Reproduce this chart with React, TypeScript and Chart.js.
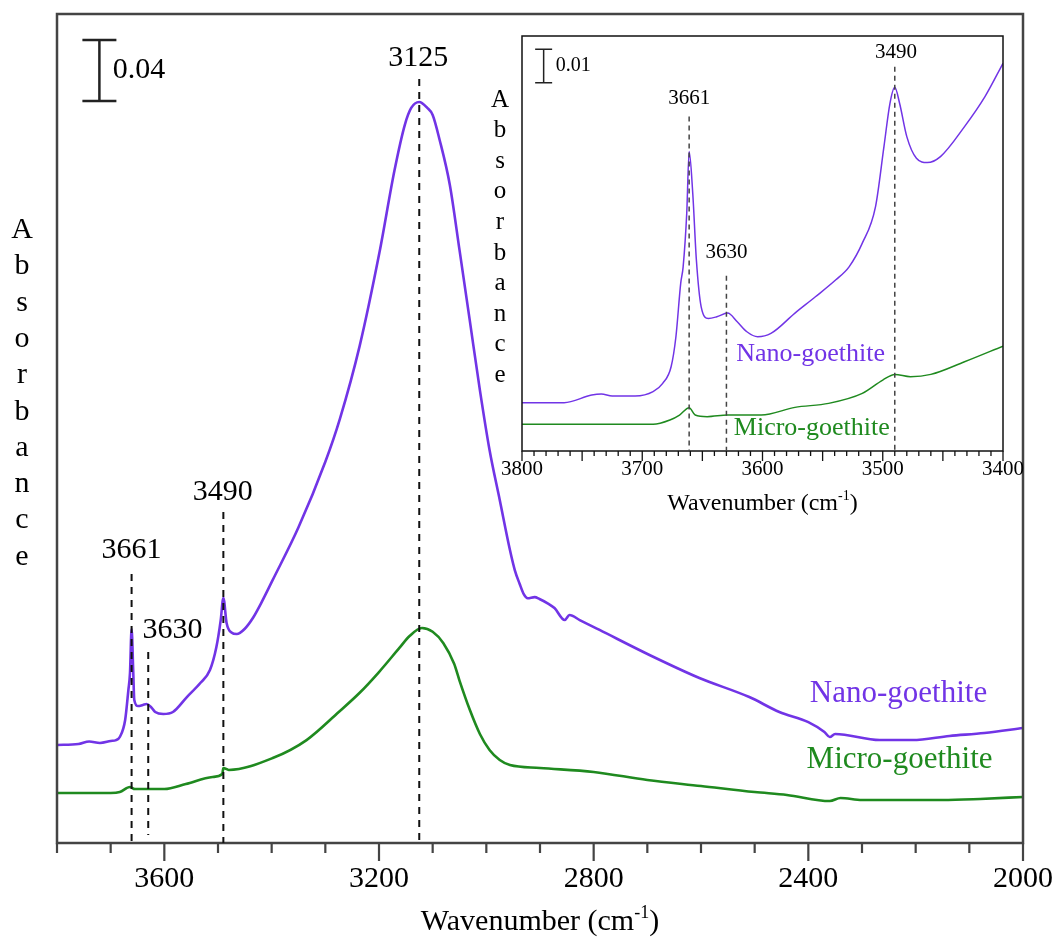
import React, { useEffect, useRef } from 'react';
import { Chart, registerables } from 'chart.js';

Chart.register(...registerables);

const SERIF = '"Liberation Serif", "Times New Roman", serif';
const PURPLE = '#7134e6';
const GREEN = '#1f8a1f';

// ---------- main spectrum (wavenumber, absorbance offset) ----------
const nanoWn = [3800, 3760, 3740, 3720, 3700, 3690, 3683, 3673, 3667, 3664, 3661, 3658, 3656, 3649, 3640, 3633, 3625, 3617, 3602, 3584, 3558, 3533, 3515, 3503, 3495, 3490, 3484, 3475, 3465, 3450, 3435, 3420, 3398, 3350, 3300, 3273, 3236, 3199, 3171, 3152, 3140, 3125, 3110, 3100, 3087, 3068, 3050, 3031, 3012, 2994, 2975, 2956, 2947, 2938, 2930, 2923, 2910, 2901, 2885, 2873, 2854, 2845, 2826, 2789, 2696, 2603, 2510, 2454, 2400, 2370, 2360, 2350, 2267, 2206, 2137, 2072, 2000];
const nanoAbs = [0.0643, 0.0649, 0.0666, 0.0656, 0.0669, 0.0675, 0.0695, 0.0807, 0.1003, 0.1115, 0.1403, 0.113, 0.0938, 0.0898, 0.0905, 0.0911, 0.0892, 0.0859, 0.0846, 0.0859, 0.0957, 0.1049, 0.1134, 0.1285, 0.146, 0.1607, 0.1443, 0.138, 0.137, 0.1405, 0.1475, 0.157, 0.1725, 0.207, 0.25, 0.278, 0.326, 0.3875, 0.4413, 0.4708, 0.482, 0.4859, 0.482, 0.4774, 0.461, 0.4315, 0.3889, 0.343, 0.297, 0.2577, 0.2249, 0.1921, 0.179, 0.17, 0.163, 0.1605, 0.1612, 0.16, 0.157, 0.1541, 0.1462, 0.1495, 0.1462, 0.1397, 0.1233, 0.1082, 0.0957, 0.0859, 0.0793, 0.0728, 0.0695, 0.0715, 0.0675, 0.0675, 0.0702, 0.0721, 0.0754];

const microWn = [3800, 3700, 3683, 3664, 3655, 3600, 3560, 3510, 3492, 3490, 3480, 3398, 3335, 3275, 3236, 3200, 3162, 3143, 3120, 3100, 3080, 3060, 3050, 3031, 3012, 2994, 2975, 2956, 2900, 2800, 2700, 2600, 2500, 2440, 2360, 2340, 2300, 2150, 2080, 2000];
const microAbs = [0.0328, 0.0328, 0.0334, 0.0367, 0.0354, 0.0354, 0.0387, 0.0433, 0.0452, 0.0492, 0.0479, 0.0557, 0.0675, 0.0859, 0.0985, 0.1121, 0.1279, 0.1357, 0.141, 0.1385, 0.131, 0.1175, 0.1065, 0.0875, 0.0715, 0.061, 0.0544, 0.0511, 0.0492, 0.0466, 0.0413, 0.0374, 0.0334, 0.0315, 0.0275, 0.0295, 0.0282, 0.0282, 0.0289, 0.0302];

const mainLabelTicks = [3600, 3200, 2800, 2400, 2000];
const mainPeaks = [3661, 3630, 3490, 3125];
const mainPeakTop = [0.1764, 0.1252, 0.217, 0.501];
const mainPeakBottom = [0, 0.0052, 0, 0];
const mainPeakLabelWn = [3661, 3585, 3491, 3127];
const mainPeakLabelAbs = [0.1921, 0.1397, 0.2304, 0.5148];
const mainScaleBar = { wn: 3721, from: 0.4866, size: 0.04, labelWn: 3696, label: '0.04' };
const mainNames = ['Nano-goethite', 'Micro-goethite'];
const mainNameWn = [2232, 2230];
const mainNameAbs = [0.098, 0.0547];

// ---------- inset (3800-3400 cm-1) ----------
const insetNanoWn = [3800, 3765, 3742, 3734, 3725, 3706, 3691, 3683, 3676, 3672, 3668, 3666, 3663, 3661, 3658, 3655, 3651, 3645, 3638, 3629, 3621, 3613, 3604, 3593, 3573, 3556, 3539, 3528, 3517, 3506, 3499, 3494, 3490, 3486, 3480, 3472, 3463, 3452, 3432, 3415, 3400];
const insetNanoAbs = [0.0145, 0.0145, 0.0168, 0.0171, 0.0165, 0.0165, 0.0178, 0.0203, 0.0253, 0.0343, 0.0504, 0.0553, 0.0714, 0.0899, 0.0774, 0.0574, 0.0433, 0.0398, 0.0403, 0.0414, 0.0388, 0.0358, 0.0343, 0.0353, 0.0414, 0.0463, 0.0514, 0.0553, 0.0624, 0.0734, 0.0914, 0.1044, 0.1092, 0.1044, 0.0944, 0.0879, 0.0866, 0.0884, 0.0974, 0.1064, 0.1164];
const insetMicroWn = [3800, 3691, 3677, 3669, 3661, 3656, 3646, 3629, 3601, 3573, 3545, 3517, 3500, 3490, 3477, 3460, 3432, 3400];
const insetMicroAbs = [0.008, 0.008, 0.0093, 0.0108, 0.013, 0.0108, 0.0103, 0.0108, 0.0108, 0.0131, 0.0143, 0.0173, 0.0213, 0.023, 0.0223, 0.023, 0.0268, 0.0315];

const insetLabelTicks = [3800, 3700, 3600, 3500, 3400];
const insetPeaks = [3661, 3630, 3490];
const insetPeakTop = [0.1004, 0.0526, 0.1154];
const insetPeakLabelWn = [3661, 3630, 3489];
const insetPeakLabelAbs = [0.1057, 0.0597, 0.1197];
const insetScaleBar = { wn: 3782, from: 0.1106, size: 0.01, labelWn: 3772, label: '0.01' };
const insetNames = ['Nano-goethite', 'Micro-goethite'];
const insetNameWn = [3560, 3559];
const insetNameAbs = [0.0292, 0.007];

const yLetters = 'Absorbance'.split('');

type DecorCfg = {
  frameColor: string;
  frameWidth: number;
  majorEvery: number;
  majorLen: number;
  minorLen: number;
  tickWidth: number;
  dash: number[];
  dashColor: string;
  dashWidth: number;
  peaks: number[];
  peakTop: number[];
  peakBottom: number[];
  peakLabelWn: number[];
  peakLabelAbs: number[];
  peakFont: number;
  bar: { wn: number; from: number; size: number; labelWn: number; label: string };
  barCap: number;
  barWidth: number;
  barFont: number;
  names: string[];
  nameWn: number[];
  nameAbs: number[];
  nameFont: number;
  letterX: number;
  letterY0: number;
  letterStep: number;
  letterFont: number;
  titleBaseline: number;
  titleFont: number;
  supFont: number;
  supRise: number;
};

function makeDecor(id: string, c: DecorCfg) {
  return {
    id,
    afterDraw(chart: any) {
      const { ctx, chartArea: a } = chart;
      const x = chart.scales.x;
      const y = chart.scales.y;
      ctx.save();
      // frame
      ctx.strokeStyle = c.frameColor;
      ctx.lineWidth = c.frameWidth;
      ctx.setLineDash([]);
      ctx.strokeRect(a.left, a.top, a.right - a.left, a.bottom - a.top);
      // tick marks
      ctx.lineWidth = c.tickWidth;
      ctx.beginPath();
      for (const t of x.ticks) {
        const px = x.getPixelForValue(t.value);
        const len = Math.round(t.value) % c.majorEvery === 0 ? c.majorLen : c.minorLen;
        ctx.moveTo(px, a.bottom);
        ctx.lineTo(px, a.bottom + len);
      }
      ctx.stroke();
      // peak dashed lines
      ctx.strokeStyle = c.dashColor;
      ctx.lineWidth = c.dashWidth;
      ctx.setLineDash(c.dash);
      c.peaks.forEach((p, i) => {
        const px = x.getPixelForValue(p);
        ctx.beginPath();
        ctx.moveTo(px, y.getPixelForValue(c.peakTop[i]));
        ctx.lineTo(px, y.getPixelForValue(c.peakBottom[i]));
        ctx.stroke();
      });
      ctx.setLineDash([]);
      // peak labels
      ctx.fillStyle = '#000';
      ctx.textAlign = 'center';
      ctx.textBaseline = 'middle';
      ctx.font = `${c.peakFont}px ${SERIF}`;
      c.peakLabelWn.forEach((w, i) => {
        ctx.fillText(String(c.peaks[i]), x.getPixelForValue(w), y.getPixelForValue(c.peakLabelAbs[i]));
      });
      // scale bar
      const bx = x.getPixelForValue(c.bar.wn);
      const by0 = y.getPixelForValue(c.bar.from);
      const by1 = y.getPixelForValue(c.bar.from + c.bar.size);
      ctx.strokeStyle = '#222';
      ctx.lineWidth = c.barWidth;
      ctx.beginPath();
      ctx.moveTo(bx, by0); ctx.lineTo(bx, by1);
      ctx.moveTo(bx - c.barCap, by0); ctx.lineTo(bx + c.barCap, by0);
      ctx.moveTo(bx - c.barCap, by1); ctx.lineTo(bx + c.barCap, by1);
      ctx.stroke();
      ctx.textAlign = 'left';
      ctx.font = `${c.barFont}px ${SERIF}`;
      ctx.fillText(c.bar.label, x.getPixelForValue(c.bar.labelWn), (by0 + by1) / 2);
      // series names
      ctx.textAlign = 'center';
      ctx.font = `${c.nameFont}px ${SERIF}`;
      c.names.forEach((n, i) => {
        ctx.fillStyle = i === 0 ? PURPLE : GREEN;
        ctx.fillText(n, x.getPixelForValue(c.nameWn[i]), y.getPixelForValue(c.nameAbs[i]));
      });
      // vertical y title
      ctx.fillStyle = '#000';
      ctx.textBaseline = 'alphabetic';
      ctx.font = `${c.letterFont}px ${SERIF}`;
      yLetters.forEach((ch, i) => {
        ctx.fillText(ch, c.letterX, c.letterY0 + i * c.letterStep);
      });
      // x title with superscript
      const cx = (a.left + a.right) / 2;
      ctx.font = `${c.titleFont}px ${SERIF}`;
      const t1 = 'Wavenumber (cm';
      const t3 = ')';
      const w1 = ctx.measureText(t1).width;
      const w3 = ctx.measureText(t3).width;
      ctx.font = `${c.supFont}px ${SERIF}`;
      const w2 = ctx.measureText('-1').width;
      let tx = cx - (w1 + w2 + w3) / 2;
      ctx.textAlign = 'left';
      ctx.font = `${c.titleFont}px ${SERIF}`;
      ctx.fillText(t1, tx, c.titleBaseline);
      tx += w1;
      ctx.font = `${c.supFont}px ${SERIF}`;
      ctx.fillText('-1', tx, c.titleBaseline - c.supRise);
      tx += w2;
      ctx.font = `${c.titleFont}px ${SERIF}`;
      ctx.fillText(t3, tx, c.titleBaseline);
      ctx.restore();
    },
  };
}

function series(wn: number[], abs: number[]) {
  return wn.map((w, i) => ({ x: w, y: abs[i] }));
}

export default function App() {
  const mainRef = useRef<HTMLCanvasElement>(null);
  const insetRef = useRef<HTMLCanvasElement>(null);

  useEffect(() => {
    const mainDecor = makeDecor('mainDecor', {
      frameColor: '#444', frameWidth: 2.5, majorEvery: 400, majorLen: 18, minorLen: 10, tickWidth: 2.2,
      dash: [7, 6], dashColor: '#111', dashWidth: 2,
      peaks: mainPeaks, peakTop: mainPeakTop, peakBottom: mainPeakBottom,
      peakLabelWn: mainPeakLabelWn, peakLabelAbs: mainPeakLabelAbs, peakFont: 30,
      bar: mainScaleBar, barCap: 17, barWidth: 2.5, barFont: 30,
      names: mainNames, nameWn: mainNameWn, nameAbs: mainNameAbs, nameFont: 31,
      letterX: 22, letterY0: 238, letterStep: 36.3, letterFont: 30,
      titleBaseline: 930, titleFont: 30, supFont: 18, supRise: 12,
    });
    const insetDecor = makeDecor('insetDecor', {
      frameColor: '#111', frameWidth: 1.5, majorEvery: 50, majorLen: 10, minorLen: 5, tickWidth: 1.3,
      dash: [5, 4], dashColor: '#444', dashWidth: 1.5,
      peaks: insetPeaks, peakTop: insetPeakTop, peakBottom: [0, 0, 0],
      peakLabelWn: insetPeakLabelWn, peakLabelAbs: insetPeakLabelAbs, peakFont: 21,
      bar: insetScaleBar, barCap: 8.5, barWidth: 1.5, barFont: 20,
      names: insetNames, nameWn: insetNameWn, nameAbs: insetNameAbs, nameFont: 26,
      letterX: 10, letterY0: 86.6, letterStep: 30.6, letterFont: 25,
      titleBaseline: 490, titleFont: 24, supFont: 14, supRise: 10,
    });

    const common = (lw: number) => ({
      pointRadius: 0,
      borderWidth: lw,
      cubicInterpolationMode: 'monotone' as const,
      fill: false,
    });

    const main = new Chart(mainRef.current!, {
      type: 'line',
      data: {
        datasets: [
          { label: 'Nano-goethite', data: series(nanoWn, nanoAbs), borderColor: PURPLE, ...common(2.6) },
          { label: 'Micro-goethite', data: series(microWn, microAbs), borderColor: GREEN, ...common(2.6) },
        ],
      },
      options: {
        responsive: false,
        animation: false,
        devicePixelRatio: 1,
        layout: { padding: { left: 57, right: 31, top: 14, bottom: 0 } },
        plugins: { legend: { display: false }, tooltip: { enabled: false } },
        scales: {
          x: {
            type: 'linear', reverse: true, min: 2000, max: 3800,
            ticks: {
              stepSize: 100, autoSkip: false, maxRotation: 0, minRotation: 0, padding: 18, color: '#000',
              font: { family: SERIF, size: 30 },
              callback: (v: any) => (mainLabelTicks.includes(Math.round(Number(v))) ? String(Math.round(Number(v))) : ''),
            },
            grid: { display: true, drawOnChartArea: false, drawTicks: true, tickLength: 0, color: 'rgba(0,0,0,0)' },
            border: { display: false },
            afterFit: (s: any) => { s.height = 94; s.paddingLeft = 0; s.paddingRight = 0; },
          },
          y: { display: false, min: 0, max: 0.5436 },
        },
      },
      plugins: [mainDecor],
    } as any);

    const inset = new Chart(insetRef.current!, {
      type: 'line',
      data: {
        datasets: [
          { label: 'Nano-goethite', data: series(insetNanoWn, insetNanoAbs), borderColor: PURPLE, ...common(1.5) },
          { label: 'Micro-goethite', data: series(insetMicroWn, insetMicroAbs), borderColor: GREEN, ...common(1.5) },
        ],
      },
      options: {
        responsive: false,
        animation: false,
        devicePixelRatio: 1,
        layout: { padding: { left: 32, right: 47, top: 16, bottom: 0 } },
        plugins: { legend: { display: false }, tooltip: { enabled: false } },
        scales: {
          x: {
            type: 'linear', reverse: true, min: 3400, max: 3800,
            ticks: {
              stepSize: 10, autoSkip: false, maxRotation: 0, minRotation: 0, padding: 6, color: '#000',
              font: { family: SERIF, size: 21 },
              callback: (v: any) => (insetLabelTicks.includes(Math.round(Number(v))) ? String(Math.round(Number(v))) : ''),
            },
            grid: { display: true, drawOnChartArea: false, drawTicks: true, tickLength: 0, color: 'rgba(0,0,0,0)' },
            border: { display: false },
            afterFit: (s: any) => { s.height = 69; s.paddingLeft = 0; s.paddingRight = 0; },
          },
          y: { display: false, min: 0, max: 0.1246 },
        },
      },
      plugins: [insetDecor],
    } as any);

    return () => {
      main.destroy();
      inset.destroy();
    };
  }, []);

  return (
    <div style={{ position: 'absolute', left: 0, top: 0, width: 1054, height: 937, background: '#fff' }}>
      <canvas ref={mainRef} width={1054} height={937} style={{ position: 'absolute', left: 0, top: 0 }} />
      <canvas ref={insetRef} width={560} height={500} style={{ position: 'absolute', left: 490, top: 20 }} />
    </div>
  );
}
